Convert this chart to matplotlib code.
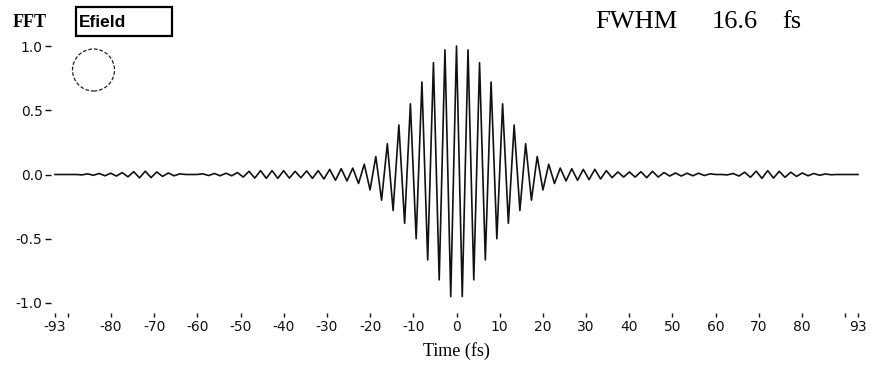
import numpy as np
import matplotlib
matplotlib.use("Agg")
import matplotlib.pyplot as plt
from matplotlib.patches import Circle, Rectangle

plt.rcParams["axes.unicode_minus"] = False

# carrier period (fs) and the time window
period_fs = 2.67
t_min, t_max = -93.0, 93.0

# magnitude of each field extremum, k = -69 .. -17 (leading pedestal)
left_wing = [0, 0, 0, 0, 0.003, 0.005, 0.006, 0.008, 0.01, 0.01, 0.012, 0.015,
             0.018, 0.022, 0.026, 0.026, 0.024, 0.02, 0.015, 0.012, 0.01, 0.005,
             0, 0, 0, 0.005, 0.008, 0.008, 0.01, 0.01, 0.01, 0.015, 0.02, 0.025,
             0.028, 0.03, 0.03, 0.03, 0.03, 0.03, 0.028, 0.025, 0.025, 0.028,
             0.03, 0.03, 0.035, 0.04, 0.045, 0.045, 0.05, 0.05, 0.07]
# k = -16 .. 16 (main pulse)
core = [0.08, 0.12, 0.14, 0.20, 0.24, 0.28, 0.385, 0.38, 0.55, 0.50, 0.72,
        0.665, 0.87, 0.82, 0.97, 0.95, 1.00, 0.95, 0.97, 0.82, 0.87, 0.665,
        0.72, 0.50, 0.55, 0.38, 0.385, 0.28, 0.24, 0.20, 0.14, 0.12, 0.08]
# k = 17 .. 69 (trailing pedestal)
right_wing = [0.07, 0.05, 0.05, 0.045, 0.045, 0.04, 0.04, 0.04, 0.035, 0.03,
              0.025, 0.02, 0.02, 0.02, 0.02, 0.022, 0.025, 0.025, 0.02, 0.015,
              0.012, 0.012, 0.012, 0.01, 0.01, 0.01, 0.008, 0.005, 0, 0, 0.003,
              0.008, 0.012, 0.018, 0.022, 0.026, 0.03, 0.03, 0.028, 0.025,
              0.022, 0.018, 0.015, 0.012, 0.01, 0.008, 0.006, 0.004, 0.002,
              0, 0, 0, 0]

xtick_pos = [-93, -90, -80, -70, -60, -50, -40, -30, -20, -10, 0,
             10, 20, 30, 40, 50, 60, 70, 80, 90, 93]
xtick_lab = ["-93", "", "-80", "-70", "-60", "-50", "-40", "-30", "-20", "-10", "0",
             "10", "20", "30", "40", "50", "60", "70", "80", "", "93"]
ytick_pos = [-1.0, -0.5, 0.0, 0.5, 1.0]
ytick_lab = ["-1.0", "-0.5", "0.0", "0.5", "1.0"]

mag = np.array(left_wing + core + right_wing)
k = np.arange(-69, 70)
field = mag * np.where(k % 2 == 0, 1.0, -1.0)
t = k * period_fs / 2
t = np.concatenate([[t_min], t, [t_max]])
field = np.concatenate([[0.0], field, [0.0]])

fig = plt.figure(figsize=(8.71, 3.69), dpi=100)
ax = fig.add_axes([55 / 871, 66 / 369, 803 / 871, 257 / 369])
ax.plot(t, field, color="#111111", lw=1.2, clip_on=False)
ax.set_xlim(t_min, t_max)
ax.set_ylim(-1, 1)

for s in ["top", "right"]:
    ax.spines[s].set_visible(False)
ax.spines["left"].set_position(("outward", 3))
ax.spines["bottom"].set_position(("outward", 7))
ax.spines["left"].set_visible(False)
ax.spines["bottom"].set_visible(False)

ax.set_xticks(xtick_pos)
ax.set_xticklabels(xtick_lab)
ax.set_yticks(ytick_pos)
ax.set_yticklabels(ytick_lab)
ax.tick_params(axis="x", direction="out", length=3, width=1, pad=2,
               labelsize=10, colors="#111111")
ax.tick_params(axis="y", direction="out", length=4, width=1, pad=2,
               labelsize=10, colors="#111111")
for lab in ax.get_xticklabels() + ax.get_yticklabels():
    lab.set_family("DejaVu Sans")

ax.set_xlabel("Time (fs)", family="Liberation Serif", fontsize=13, labelpad=6)

# header texts
fig.text(13 / 871, 1 - 27 / 369, "FFT", family="Liberation Serif",
         fontweight="bold", fontsize=13, va="baseline")
fig.add_artist(Rectangle((0.76, 3.33), 0.96, 0.29, transform=fig.dpi_scale_trans,
                         fill=False, lw=1.6, ec="black"))
fig.text(79 / 871, 1 - 27 / 369, "Efield", family="Liberation Sans",
         fontweight="bold", fontsize=12.5, va="baseline")
fig.add_artist(Circle((0.935, 2.99), 0.21, transform=fig.dpi_scale_trans,
                      fill=False, lw=0.9, ls=(0, (3, 1.5)), ec="#222222"))
fig.text(595 / 871, 1 - 28 / 369, "FWHM", family="Liberation Serif",
         fontsize=19, va="baseline")
fig.text(712 / 871, 1 - 28 / 369, "16.6", family="Liberation Serif",
         fontsize=19, va="baseline")
fig.text(782 / 871, 1 - 28 / 369, "fs", family="Liberation Serif",
         fontsize=19, va="baseline")

fig.savefig("out.png", dpi=100)
